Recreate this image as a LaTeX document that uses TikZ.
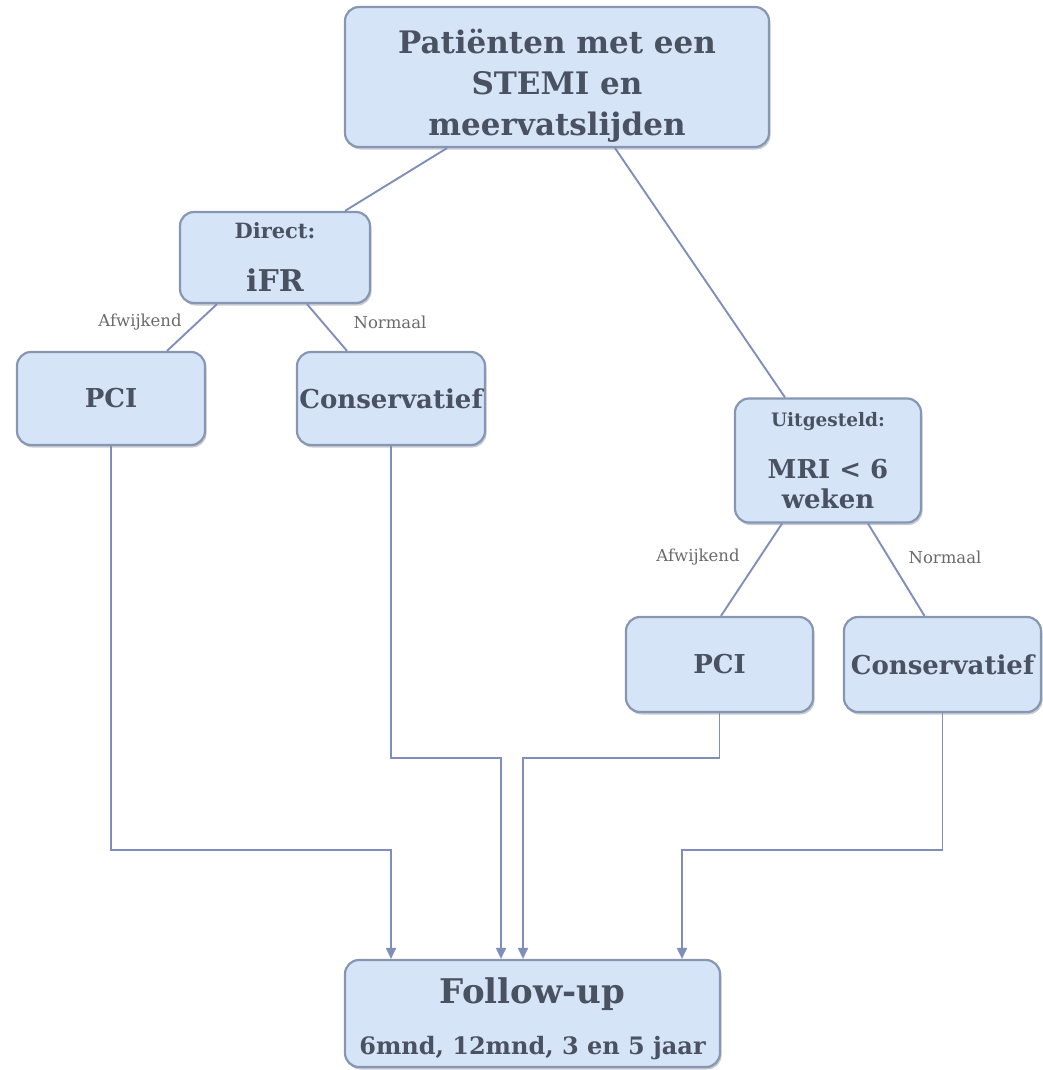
\documentclass[tikz,border=0pt]{standalone}
\usepackage{fontspec}
\setmainfont{DejaVu Serif}
\usetikzlibrary{arrows.meta,shadows}
\definecolor{ink}{HTML}{4A5262}
\definecolor{edge}{HTML}{8797B3}
\definecolor{boxfill}{HTML}{D6E4F8}
\definecolor{wire}{HTML}{7F8FBA}
\definecolor{note}{HTML}{6A6A6A}
\tikzset{
  box/.style={draw=edge, fill=boxfill, rounded corners=14pt, line width=2.2pt, align=center, text=ink, inner sep=0pt, drop shadow={shadow xshift=1.5pt, shadow yshift=-2.5pt, opacity=0.3, fill=ink}},
  link/.style={draw=wire, line width=1.9pt},
  arrow/.style={-{Triangle[length=11pt, width=10pt]}, draw=wire, line width=1.9pt},
  tag/.style={text=note, font=\fontsize{16.5}{19}\selectfont}
}

\begin{document}
\begin{tikzpicture}[x=1pt, y=-1pt]
  \useasboundingbox (0,0) rectangle (1043,1070);

  \node[box, minimum width=424pt, minimum height=140pt, font=\bfseries\fontsize{31}{41}\selectfont] (patients) at (557,77) {\rule{0pt}{42pt}Patiënten met een\\STEMI en\\meervatslijden};

  % direct arm
  \node[box, minimum width=190pt, minimum height=91pt, font=\bfseries\fontsize{30}{30}\selectfont] (direct) at (275,257.5) {{\fontsize{21}{25}\selectfont Direct:}\\[23pt]iFR};
  \node[box, minimum width=188pt, minimum height=93pt, font=\bfseries\fontsize{26}{30}\selectfont] (pciL) at (111,398.5) {PCI};
  \node[box, minimum width=188pt, minimum height=93pt, font=\bfseries\fontsize{26}{30}\selectfont] (consL) at (391,398.5) {Conservatief};
  \node[tag] (abnL) at (140,322) {Afwijkend};
  \node[tag] (nrmL) at (390,322) {Normaal};

  % delayed arm
  \node[box, minimum width=186pt, minimum height=124pt, font=\bfseries\fontsize{26}{30}\selectfont] (uitg) at (828,460.5) {{\fontsize{18.5}{22}\selectfont Uitgesteld:}\\[21.5pt]MRI < 6\\weken};
  \node[box, minimum width=187pt, minimum height=95pt, font=\bfseries\fontsize{26}{30}\selectfont] (pciR) at (719.5,664.5) {PCI};
  \node[box, minimum width=197pt, minimum height=95pt, font=\bfseries\fontsize{26}{30}\selectfont] (consR) at (942.5,664.5) {Conservatief};
  \node[tag] (abnR) at (698,557) {Afwijkend};
  \node[tag] (nrmR) at (945,557) {Normaal};

  \node[box, minimum width=375pt, minimum height=107pt, font=\bfseries\fontsize{24}{27}\selectfont] (followup) at (532.5,1013.5) {{\fontsize{34}{40}\selectfont\rule{0pt}{36pt}Follow-up}\\[24pt]6mnd, 12mnd, 3 en 5 jaar};

  \draw[link] ([xshift=-110pt]patients.south) -- ([xshift=70pt]direct.north);
  \draw[link] ([xshift=58pt]patients.south) -- ([xshift=-43pt]uitg.north);
  \draw[link] ([xshift=-58pt]direct.south) -- ([xshift=56pt]pciL.north);
  \draw[link] ([xshift=32pt]direct.south) -- ([xshift=-44pt]consL.north);
  \draw[link] ([xshift=-46pt]uitg.south) -- ([xshift=1.5pt]pciR.north);
  \draw[link] ([xshift=40pt]uitg.south) -- ([xshift=-18pt]consR.north);

  \coordinate (lowA) at (0,850);
  \coordinate (lowB) at (0,758);
  \coordinate (inA) at ([xshift=-141.5pt]followup.north);
  \coordinate (inB) at ([xshift=-31.5pt]followup.north);
  \coordinate (inC) at ([xshift=-9.5pt]followup.north);
  \coordinate (inD) at ([xshift=149.5pt]followup.north);

  \draw[arrow] (pciL.south) |- (inA |- lowA) -- (inA);
  \draw[arrow] (consL.south) |- (inB |- lowB) -- (inB);
  \draw[arrow] (pciR.south) |- (inC |- lowB) -- (inC);
  \draw[arrow] (consR.south) |- (inD |- lowA) -- (inD);
\end{tikzpicture}
\end{document}
